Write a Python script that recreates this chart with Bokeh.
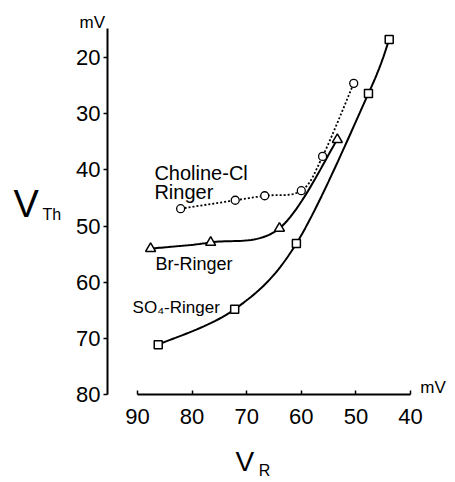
import numpy as np
from bokeh.plotting import figure
from bokeh.models import Range1d, FixedTicker, Label
from bokeh.embed import file_html
from bokeh.resources import INLINE

# ---- data ----
so4_vr = [86.2, 72.2, 60.9, 47.7, 43.9]
so4_vth = [71.1, 64.8, 53.1, 26.4, 16.8]

br_vr = [87.6, 76.6, 64.0, 53.4]
br_vth = [54.0, 52.9, 50.4, 34.6]

chol_vr = [82.1, 72.1, 66.7, 60.0, 56.1, 50.4]
chol_vth = [46.9, 45.4, 44.6, 43.7, 37.6, 24.6]

x_ticks = [90, 80, 70, 60, 50, 40]
y_ticks = [20, 30, 40, 50, 60, 70, 80]

FONT = "Liberation Sans"


def smooth(xs, ys, n=24):
    """Catmull-Rom curve through the measured points (drawing only)."""
    pts = list(zip(xs, ys))
    P = [pts[0]] + pts + [pts[-1]]
    ox, oy = [], []
    for i in range(1, len(P) - 2):
        p0, p1, p2, p3 = (np.array(P[i - 1]), np.array(P[i]),
                          np.array(P[i + 1]), np.array(P[i + 2]))
        for t in np.linspace(0, 1, n, endpoint=False):
            t2, t3 = t * t, t * t * t
            q = 0.5 * ((2 * p1) + (-p0 + p2) * t +
                       (2 * p0 - 5 * p1 + 4 * p2 - p3) * t2 +
                       (-p0 + 3 * p1 - 3 * p2 + p3) * t3)
            ox.append(q[0]); oy.append(q[1])
    ox.append(pts[-1][0]); oy.append(pts[-1][1])
    return ox, oy


# the frame fills the whole page; axes are pinned at fixed data locations
p = figure(width=455, height=482, output_backend="svg", toolbar_location=None,
           x_range=Range1d(115.09, 31.76), y_range=Range1d(95.62, 9.86),
           min_border=0)
p.outline_line_color = None
p.xgrid.visible = False
p.ygrid.visible = False
p.background_fill_color = "white"
p.border_fill_color = "white"

# axes
xa = p.xaxis[0]
xa.fixed_location = 80
xa.ticker = FixedTicker(ticks=x_ticks)
xa.bounds = (40, 90)
xa.axis_line_width = 2
xa.axis_line_color = "black"
xa.major_tick_in = 4
xa.major_tick_out = 0
xa.major_tick_line_width = 1.5
xa.minor_tick_line_color = None
xa.major_label_text_font = FONT
xa.major_label_text_font_size = "22px"
xa.major_label_text_color = "black"
xa.major_label_standoff = 14

ya = p.yaxis[0]
ya.fixed_location = 95.5
ya.ticker = FixedTicker(ticks=y_ticks)
ya.bounds = (14.8, 80)
ya.axis_line_width = 2
ya.axis_line_color = "black"
ya.major_tick_in = 0
ya.major_tick_out = 4
ya.major_tick_line_width = 1.5
ya.minor_tick_line_color = None
ya.major_label_text_font = FONT
ya.major_label_text_font_size = "22px"
ya.major_label_text_color = "black"
ya.major_label_standoff = 3

# curves
sx, sy = smooth(so4_vr, so4_vth)
p.line(sx, sy, line_color="black", line_width=2)
bx, by = smooth(br_vr, br_vth)
p.line(bx, by, line_color="black", line_width=2)
cx, cy = smooth(chol_vr, chol_vth)
p.line(cx, cy, line_color="black", line_width=1.8, line_dash="2 2")

# markers
p.scatter(so4_vr, so4_vth, marker="square", size=8, fill_color="white",
          line_color="black", line_width=1.5)
p.scatter(br_vr, br_vth, marker="triangle", size=10, fill_color="white",
          line_color="black", line_width=1.5)
p.scatter(chol_vr, chol_vth, marker="circle", size=8, fill_color="white",
          line_color="black", line_width=1.3)


def lab(x, y, text, size):
    p.add_layout(Label(x=x, y=y, text=text, text_font=FONT,
                       text_font_size=size, text_color="black",
                       text_align="left", text_baseline="alphabetic"))


# series labels
lab(86.9, 40.5, "Choline-Cl", "20px")
lab(86.9, 44.0, "Ringer", "20px")
lab(86.7, 56.8, "Br-Ringer", "18px")
lab(90.9, 64.4, "SO\u2084-Ringer", "17px")

# axis titles and units
lab(112.7, 46.0, "V", "38px")
lab(107.4, 47.9, "Th", "16px")
lab(72.05, 91.9, "V", "28px")
lab(67.8, 93.5, "R", "16px")
lab(100.6, 13.8, "mV", "17px")
lab(38.2, 78.65, "mV", "17px")

open("out.html", "w").write(file_html(p, INLINE))
